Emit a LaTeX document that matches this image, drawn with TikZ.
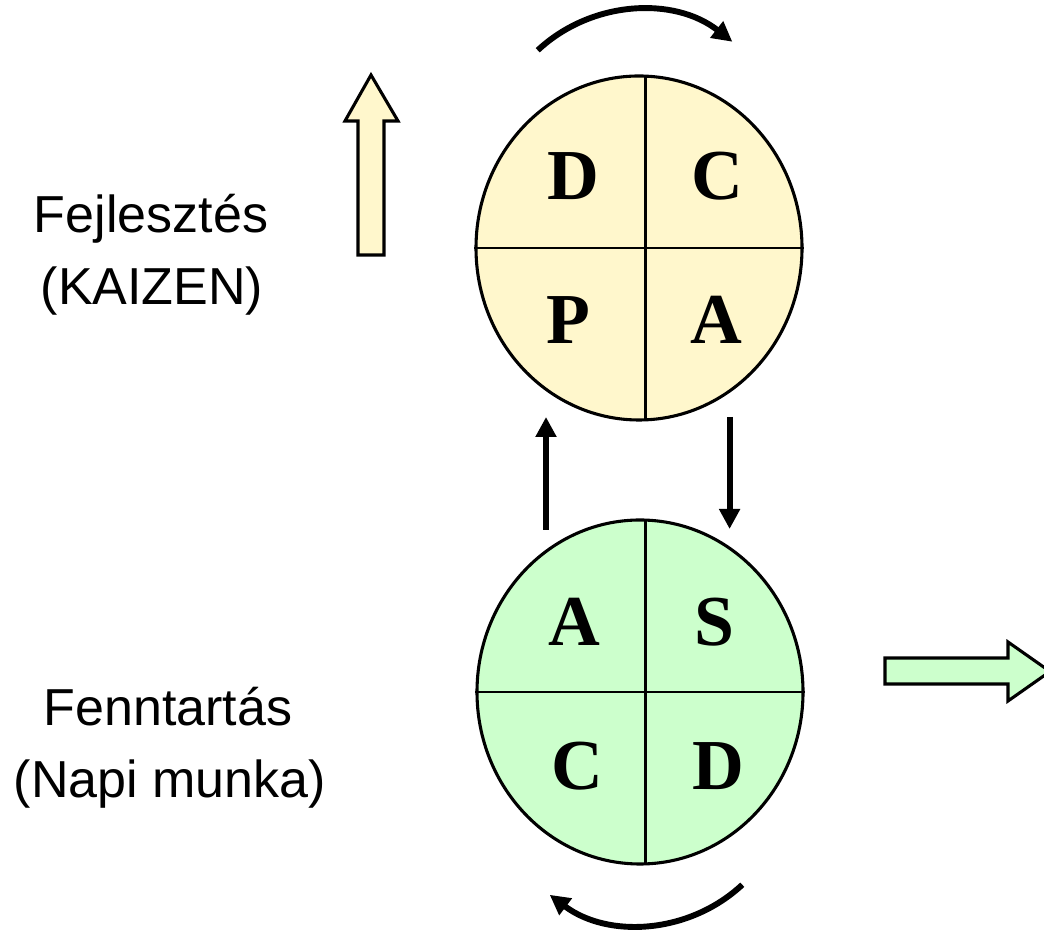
\documentclass[tikz,border=0pt]{standalone}
\usepackage{fontspec}
\setmainfont{Liberation Serif}
\newfontfamily\arialfont{Liberation Sans}
\usetikzlibrary{arrows.meta,shapes.geometric}

\definecolor{kaizenyellow}{RGB}{255,247,204}
\definecolor{dailygreen}{RGB}{204,255,204}

\begin{document}
\begin{tikzpicture}
        \tikzstyle{disc}    = [ellipse, draw, line width=2.2pt, minimum width=8.15cm, minimum height=8.6cm, inner sep=0pt]
        \tikzstyle{letter}  = [inner sep=0pt, font=\fontsize{51}{53}\selectfont\bfseries]
        \tikzstyle{caption} = [inner sep=0pt, anchor=base, font=\arialfont\fontsize{37}{44}\selectfont]
        \tikzstyle{flow}    = [line width=4.2pt, -{Triangle[length=0.5cm, width=0.5cm]}]
        \tikzstyle{block}   = [draw, line width=2.2pt, line join=miter]

        \useasboundingbox (0,0) rectangle (26.1,23.3);

        % the two PDCA / SDCA wheels
        \node [disc, fill=kaizenyellow](plan) at (15.975, 17.1) {};
        \node [disc, fill=dailygreen](daily) at (16.0, 6.0) {};
        \draw [line width=1.8pt] (16.14, 21.4) -- (16.14, 12.8);
        \draw [line width=1.8pt] (plan.west) -- (plan.east);
        \draw [line width=1.8pt] (16.14, 10.3) -- (16.14, 1.7);
        \draw [line width=1.8pt] (daily.west) -- (daily.east);

        \foreach \l/\x/\y [count=\i] in {D/14.325/18.9, C/17.925/18.9, P/14.2/15.3, A/17.9/15.3}
                \node [letter](p\i) at (\x, \y) {\l};
        \foreach \l/\x/\y [count=\i] in {A/14.35/7.75, S/17.85/7.75, C/14.425/4.15, D/17.95/4.15}
                \node [letter](s\i) at (\x, \y) {\l};

        % labels on the left
        \node [caption](kaizen1) at (3.775, 17.475) {Fejlesztés};
        \node [caption](kaizen2) at (3.8, 15.675) {(KAIZEN)};
        \node [caption](napi1) at (4.2, 5.15) {Fenntartás};
        \node [caption](napi2) at (4.25, 3.35) {(Napi munka)};

        % turning arrows
        \coordinate (turntop) at (13.443, 22.043);
        \coordinate (turnbot) at (18.557, 1.182);
        \draw [flow] (turntop) arc[start angle=133, end angle=52, radius=3.75];
        \draw [flow] (turnbot) arc[start angle=-47, end angle=-127, radius=3.75];

        \coordinate (upfrom) at (13.65, 10.05);
        \coordinate (upto) at (13.65, 12.875);
        \coordinate (downfrom) at (18.24, 12.875);
        \coordinate (downto) at (18.24, 10.075);
        \draw [flow] (upfrom) -- (upto);
        \draw [flow] (downfrom) -- (downto);

        % block arrows
        \draw [block, fill=kaizenyellow] (8.95, 16.925) -- (8.95, 20.275) -- (8.625, 20.275) -- (9.275, 21.425)
                -- (9.95, 20.275) -- (9.6, 20.275) -- (9.6, 16.925) -- cycle;
        \draw [block, fill=dailygreen] (22.125, 6.85) -- (25.2, 6.85) -- (25.2, 7.25) -- (26.25, 6.5125)
                -- (25.2, 5.775) -- (25.2, 6.2) -- (22.125, 6.2) -- cycle;
\end{tikzpicture}
\end{document}
